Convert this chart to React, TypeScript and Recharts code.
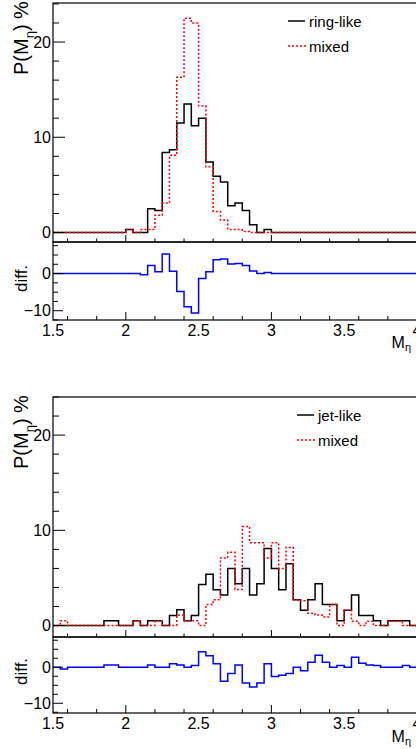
import React from 'react';
import { LineChart, Line, XAxis, YAxis } from 'recharts';

// lower bin edges of M_eta (bin width 0.05), last entry closes the final bin
const massEdges = [
  1.5, 1.55, 1.6, 1.65, 1.7, 1.75, 1.8, 1.85, 1.9, 1.95,
  2, 2.05, 2.1, 2.15, 2.2, 2.25, 2.3, 2.35, 2.4, 2.45,
  2.5, 2.55, 2.6, 2.65, 2.7, 2.75, 2.8, 2.85, 2.9, 2.95,
  3, 3.05, 3.1, 3.15, 3.2, 3.25, 3.3, 3.35, 3.4, 3.45,
  3.5, 3.55, 3.6, 3.65, 3.7, 3.75, 3.8, 3.85, 3.9, 3.95,
  4,
];

// upper pair: ring-like vs mixed events, P(M_eta) in %
const ringLike = [
  0, 0, 0, 0, 0, 0, 0, 0, 0, 0,
  0.3, 0, 0, 2.5, 2.3, 8.4, 8.7, 11.5, 13.5, 11.2,
  12.0, 7.4, 5.9, 5.3, 2.8, 3.1, 2.3, 0.8, 0, 0.3,
  0, 0, 0, 0, 0, 0, 0, 0, 0, 0,
  0, 0, 0, 0, 0, 0, 0, 0, 0, 0,
];
const ringMixed = [
  0, 0, 0, 0, 0, 0, 0, 0, 0, 0,
  0.3, 0, 0.3, 0.3, 1.8, 3.1, 8.1, 16.3, 22.5, 22.0,
  13.3, 6.9, 2.2, 1.3, 0.3, 0.3, 0.1, 0, 0, 0,
  0, 0, 0, 0, 0, 0, 0, 0, 0, 0,
  0, 0, 0, 0, 0, 0, 0, 0, 0, 0,
];
const ringDiff = [
  0, 0, 0, 0, 0, 0, 0, 0, 0, 0,
  0, 0, -0.3, 2.2, 0.5, 5.3, 0.6, -4.8, -8.9, -10.6,
  -1.3, 0.5, 3.7, 3.9, 2.6, 2.7, 2.2, 0.7, 0, 0.3,
  0, 0, 0, 0, 0, 0, 0, 0, 0, 0,
  0, 0, 0, 0, 0, 0, 0, 0, 0, 0,
];

// lower pair: jet-like vs mixed events
const jetLike = [
  0, 0, 0, 0, 0, 0, 0, 0.5, 0.5, 0,
  0, 0.5, 0, 0.5, 0.5, 0, 1.05, 1.65, 0.5, 1.05,
  4.3, 5.4, 3.75, 3.2, 6.0, 4.4, 6.0, 3.2, 4.4, 8.1,
  6.0, 3.75, 6.5, 2.7, 1.6, 2.7, 4.4, 2.2, 2.2, 0.5,
  1.6, 3.2, 1.05, 1.05, 0.5, 0, 0.5, 0.5, 0.5, 0,
];
const jetMixed = [
  0, 0.5, 0, 0, 0, 0, 0, 0, 0, 0,
  0, 0.5, 0, 0, 0.5, 0, 0, 1.1, 0.5, 0.5,
  0, 2.2, 2.7, 7.1, 7.7, 3.8, 10.4, 8.7, 8.7, 7.1,
  8.7, 6.0, 8.2, 2.7, 2.6, 1.3, 1.1, 0.9, 2.2, 0,
  1.6, 0.45, 0, 0.45, 0, 0, 0.45, 0.45, 0, 0,
];
const jetDiff = [
  0, -0.5, 0, 0, 0, 0, 0, 0.6, 0.6, 0,
  0, 0, 0, 0.6, 0, 0, 1.0, 0.6, 0, 0.5,
  4.3, 3.2, 1.0, -3.9, -1.7, 0.6, -4.4, -5.5, -4.4, 1.0,
  -2.6, -2.2, -1.7, 0, -1.0, 1.4, 3.3, 1.4, 0, 0.5,
  0, 2.8, 1.1, 0.6, 0.5, 0, 0, 0, 0.5, 0,
];

const xMarkTicks = [1.6, 1.8, 2, 2.2, 2.4, 2.6, 2.8, 3, 3.2, 3.4, 3.6, 3.8, 4];
const xLabelTicks = [1.5, 2, 2.5, 3, 3.5, 4];
const xAllTicks = [1.5, 1.6, 1.8, 2, 2.2, 2.4, 2.5, 2.6, 2.8, 3, 3.2, 3.4, 3.5, 3.6, 3.8, 4];
const mainYTicks = [0, 2, 4, 6, 8, 10, 12, 14, 16, 18, 20, 22, 24];
const mainYLabels = [0, 10, 20];
const diffYTicks = [-12.5, -10, -7.5, -5, -2.5, 0, 2.5, 5, 7.5];
const diffYLabels = [-10, 0];

const FONT = '"Liberation Sans", Arial, Helvetica, sans-serif';
const CHART_W = 425;
const PLOT_L = 53;
const PLOT_R = 417;

// step rows: value of bin k sits at its low edge, the closing edge repeats the last bin
function stepRows(first: number[], second?: number[]) {
  return massEdges.map((m, i) => {
    const k = Math.min(i, first.length - 1);
    return { m, a: first[k], b: second ? second[k] : undefined };
  });
}

function makeXTick(majorLen: number, minorLen: number, withLabels: boolean) {
  return function XTick(props: any) {
    const { x, y, payload } = props;
    const v = payload.value;
    return (
      <g>
        {xMarkTicks.includes(v) && (
          <line x1={x} x2={x} y1={y} y2={y - (Number.isInteger(v) ? majorLen : minorLen)} stroke="#000" />
        )}
        {withLabels && xLabelTicks.includes(v) && (
          <text x={x} y={y + 10} textAnchor="middle" dominantBaseline="central" fontSize={16} fontFamily={FONT} fill="#000">
            {String(v)}
          </text>
        )}
      </g>
    );
  };
}

function makeYTick(majorLen: number, minorLen: number, labels: number[]) {
  return function YTick(props: any) {
    const { x, y, payload } = props;
    const v = payload.value;
    const isMajor = v % 10 === 0;
    return (
      <g>
        <line x1={x} x2={x + (isMajor ? majorLen : minorLen)} y1={y} y2={y} stroke="#000" />
        {labels.includes(v) && (
          <text x={x - 2} y={y} textAnchor="end" dominantBaseline="central" fontSize={16} fontFamily={FONT} fill="#000">
            {v < 0 ? '\u2212' + Math.abs(v) : String(v)}
          </text>
        )}
      </g>
    );
  };
}

const MainXTick = makeXTick(7, 3.5, false);
const DiffXTick = makeXTick(8, 4, true);
const MainYTick = makeYTick(12, 6, mainYLabels);
const DiffYTick = makeYTick(10, 5, diffYLabels);

interface PanelProperties {
  top: number;
  height: number;
  marginTop: number;
  axisHeight: number;
  domain: [number, number];
  diff: boolean;
  rows: { m: number; a: number; b?: number }[];
}

function HistPanel({ top, height, marginTop, axisHeight, domain, diff, rows }: PanelProperties) {
  return (
    <div style={{ position: 'absolute', left: 0, top }}>
      <LineChart
        width={CHART_W}
        height={height}
        data={rows}
        margin={{ top: marginTop, right: CHART_W - PLOT_R, left: 0, bottom: 0 }}
      >
        <XAxis
          dataKey="m"
          type="number"
          domain={[1.5, 4]}
          ticks={xAllTicks}
          interval={0}
          height={axisHeight}
          tickSize={0}
          tickMargin={0}
          tickLine={false}
          axisLine={false}
          tick={diff ? <DiffXTick /> : <MainXTick />}
        />
        <YAxis
          type="number"
          domain={domain}
          allowDataOverflow
          ticks={diff ? diffYTicks : mainYTicks}
          interval={0}
          width={PLOT_L}
          tickSize={0}
          tickMargin={0}
          tickLine={false}
          axisLine={false}
          tick={diff ? <DiffYTick /> : <MainYTick />}
        />
        {diff ? (
          <Line type="stepAfter" dataKey="a" stroke="#0000ff" strokeWidth={1.5} dot={false} isAnimationActive={false} />
        ) : (
          <Line type="stepAfter" dataKey="a" stroke="#000" strokeWidth={1.5} dot={false} isAnimationActive={false} />
        )}
        {!diff && (
          <Line
            type="stepAfter"
            dataKey="b"
            stroke="#ff0000"
            strokeWidth={1.5}
            strokeDasharray="2 2"
            dot={false}
            isAnimationActive={false}
          />
        )}
      </LineChart>
    </div>
  );
}

function YTitle({ x, y, main }: { x: number; y: number; main: boolean }) {
  if (!main) {
    return (
      <text transform={`translate(${x},${y}) rotate(-90)`} fontSize={17} fontFamily={FONT} fill="#000">
        diff.
      </text>
    );
  }
  return (
    <text transform={`translate(${x},${y}) rotate(-90)`} fontSize={20} fontFamily={FONT} fill="#000">
      P(M
      <tspan dy={6} fontSize={13}>
        η
      </tspan>
      <tspan dy={-6}>) %</tspan>
    </text>
  );
}

function Legend({ x, y, label }: { x: number; y: number; label: string }) {
  return (
    <g fontFamily={FONT} fontSize={15} fill="#000">
      <line x1={x} x2={x + 17} y1={y} y2={y} stroke="#000" strokeWidth={1.5} />
      <text x={x + 21} y={y} dominantBaseline="central">
        {label}
      </text>
      <line x1={x} x2={x + 19} y1={y + 25} y2={y + 25} stroke="#ff0000" strokeWidth={1.5} strokeDasharray="2 2" />
      <text x={x + 21} y={y + 25} dominantBaseline="central">
        mixed
      </text>
    </g>
  );
}

export default function App() {
  const frameW = PLOT_R - PLOT_L;
  return (
    <div style={{ position: 'absolute', left: 0, top: 0, width: 416, height: 749, overflow: 'hidden', background: '#fff' }}>
      <HistPanel top={0} height={243} marginTop={3} axisHeight={1} domain={[-1, 24.1]} diff={false} rows={stepRows(ringLike, ringMixed)} />
      <HistPanel top={232} height={128} marginTop={10} axisHeight={40} domain={[-12.5, 8.5]} diff rows={stepRows(ringDiff)} />
      <HistPanel top={390} height={248} marginTop={7} axisHeight={1} domain={[-1.2, 24]} diff={false} rows={stepRows(jetLike, jetMixed)} />
      <HistPanel top={627} height={126} marginTop={10} axisHeight={40} domain={[-12.7, 8.4]} diff rows={stepRows(jetDiff)} />
      <svg width={416} height={749} style={{ position: 'absolute', left: 0, top: 0, pointerEvents: 'none' }}>
        <g fill="none" stroke="#000" strokeWidth={1.2}>
          <rect x={PLOT_L} y={3} width={frameW} height={239} />
          <rect x={PLOT_L} y={242} width={frameW} height={78} />
          <rect x={PLOT_L} y={397} width={frameW} height={240} />
          <rect x={PLOT_L} y={637} width={frameW} height={76} />
        </g>
        <YTitle x={27.5} y={75} main />
        <YTitle x={27} y={292} main={false} />
        <YTitle x={27.5} y={469} main />
        <YTitle x={27} y={685} main={false} />
        <Legend x={288} y={21} label="ring-like" />
        <Legend x={297} y={415} label="jet-like" />
        <g fontFamily={FONT} fontSize={16} fill="#000">
          <text x={411} y={348} textAnchor="end">
            M
            <tspan dy={3} fontSize={11}>
              η
            </tspan>
          </text>
          <text x={411} y={742} textAnchor="end">
            M
            <tspan dy={3} fontSize={11}>
              η
            </tspan>
          </text>
        </g>
      </svg>
    </div>
  );
}
